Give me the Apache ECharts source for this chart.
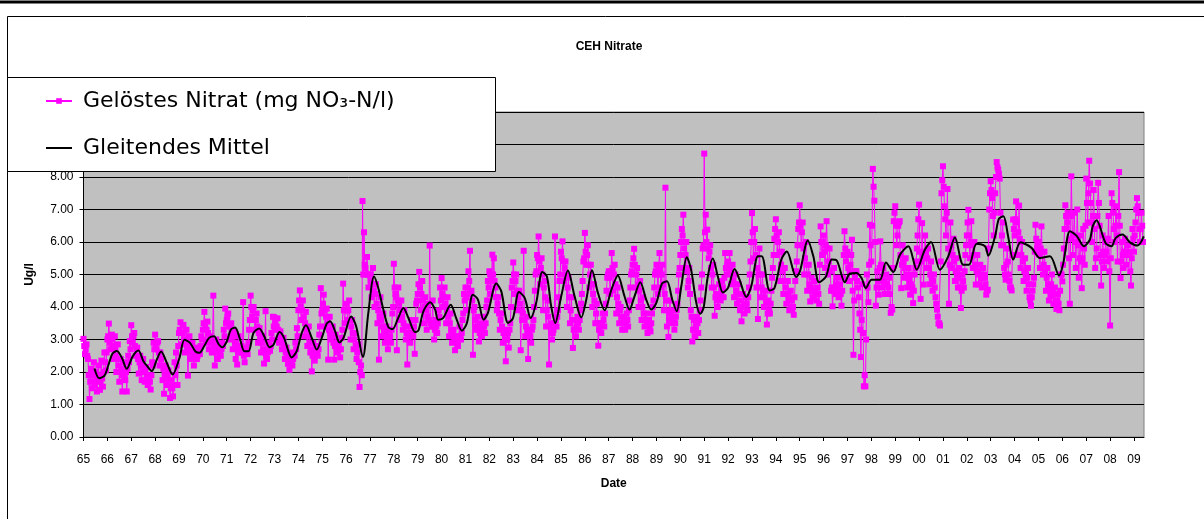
<!DOCTYPE html>
<html>
<head>
<meta charset="utf-8">
<style>html,body{margin:0;padding:0;background:#fff}#c{width:1204px;height:519px}</style>
<script src="https://cdn.jsdelivr.net/npm/echarts@6/dist/echarts.min.js"></script>
</head>
<body>
<div id="c"></div>
<script>
const chartTitle = 'CEH Nitrate';
const xAxisName = 'Date';
const yAxisName = 'Ug/l';
const nitrateName = 'Gelöstes Nitrat (mg NO\u2083-N/l)';
const averageName = 'Gleitendes Mittel';
const tickLabels = ['65','66','67','68','69','70','71','72','73','74','75','76','77','78','79','80','81','82','83','84','85','86','87','88','89','90','91','92','93','94','95','96','97','98','99','00','01','02','03','04','05','06','07','08','09'];
const startYear = 65;
const samplesPerYear = 16;
// one row per year: samples on the sixteenth of a year
const nitrateValues = [
3.02,2.55,2.85,2.4,1.17,2.1,1.5,2.3,1.7,1.4,2.2,1.45,2.35,1.55,2.6,2.05,
3.0,3.49,2.7,3.15,2.4,3.1,2.0,2.85,1.7,2.4,1.4,2.3,1.75,1.4,2.5,2.95,
3.44,2.9,3.2,2.5,2.75,1.95,2.5,1.75,2.4,1.7,2.15,1.6,1.9,1.46,2.3,2.9,
3.15,2.7,2.95,2.2,2.4,1.75,1.33,2.2,1.6,2.05,1.2,1.75,1.25,2.3,2.6,1.6,
3.2,3.53,2.85,3.45,2.6,3.3,1.89,3.1,2.4,2.9,2.2,2.75,2.4,2.7,2.55,3.1,
3.3,3.85,2.9,3.55,2.7,3.1,2.6,4.35,2.2,3.0,2.4,2.85,2.5,2.9,3.3,3.95,
3.6,3.8,3.0,3.5,2.7,3.25,2.4,2.23,3.1,2.6,2.8,4.15,2.3,2.75,2.55,3.3,
4.35,3.7,4.0,3.3,3.8,2.9,3.35,2.6,3.1,2.26,3.87,2.4,2.9,2.65,3.2,3.7,
3.68,3.3,3.65,2.9,3.25,2.7,3.05,2.4,2.75,2.25,2.07,2.6,2.2,2.55,2.9,3.35,
3.9,4.51,3.6,4.2,3.1,3.85,2.8,3.4,2.6,2.02,2.9,2.35,2.8,2.5,3.15,4.58,
3.9,4.38,3.4,3.95,2.38,3.7,3.0,3.4,2.38,3.15,2.6,2.9,2.45,3.05,4.72,3.5,
4.1,3.6,4.2,3.0,3.6,2.7,3.2,2.4,2.85,1.54,2.2,7.26,6.3,5.2,5.54,4.6,
5.0,4.3,5.2,4.0,4.7,3.5,2.38,4.3,3.1,3.8,2.9,3.4,2.7,3.3,2.9,3.8,
5.33,4.4,2.67,4.6,3.6,4.2,3.3,3.9,3.0,2.23,3.4,2.9,3.6,3.1,2.56,4.1,
4.4,5.08,3.9,4.8,3.5,4.3,3.3,4.1,5.89,3.5,4.2,3.0,3.6,3.2,3.9,4.6,
4.89,4.0,4.6,3.5,4.3,3.1,3.8,2.9,3.3,2.67,3.1,2.8,3.4,3.0,3.6,4.4,
4.6,3.9,5.1,5.73,4.5,2.53,4.0,3.3,3.7,2.94,3.5,3.1,3.7,3.2,4.0,4.8,
5.1,4.4,5.61,5.5,4.6,3.9,4.3,3.3,3.8,2.9,3.3,2.33,3.0,2.75,3.5,4.6,
5.37,4.4,5.0,3.9,4.5,2.67,3.6,5.73,3.1,3.7,2.4,3.3,2.9,3.4,4.0,5.0,
5.6,6.17,4.7,5.5,3.9,4.8,3.4,4.2,2.23,3.5,3.0,3.3,6.17,3.4,3.9,4.8,
5.7,6.02,4.8,5.4,4.0,4.9,3.5,4.3,2.74,3.6,3.1,3.7,3.3,3.9,4.4,5.4,
6.28,5.3,5.9,4.6,5.3,4.0,4.7,3.5,4.1,2.81,3.5,3.2,3.8,3.4,4.1,4.9,
5.1,4.4,5.66,4.5,5.3,3.8,4.6,3.5,4.0,3.3,3.7,3.3,3.8,3.4,4.2,5.0,
5.3,5.79,4.6,5.2,4.0,4.8,3.6,4.3,3.4,3.8,3.2,3.6,3.25,3.8,4.2,5.0,
5.3,4.4,5.66,4.6,5.3,3.9,7.67,3.4,3.08,4.2,3.5,3.9,3.3,3.7,4.1,5.0,
5.6,6.4,6.84,5.2,6.0,4.6,5.2,3.9,2.94,3.6,3.1,3.7,3.2,3.9,4.6,5.8,
8.72,6.84,6.38,5.5,5.9,4.6,5.3,3.73,4.4,4.0,4.7,4.2,4.8,4.3,5.66,5.0,
5.4,5.66,4.7,5.3,4.3,5.0,4.1,4.7,3.9,3.56,4.4,3.8,4.3,3.9,4.6,5.4,
6.89,5.5,6.4,4.6,3.63,5.8,4.3,5.0,4.0,4.5,3.46,4.2,3.8,4.5,5.2,6.1,
6.7,5.6,6.3,4.8,5.7,4.4,5.2,4.1,4.8,3.9,4.5,3.9,3.76,4.8,5.4,6.4,
7.13,5.9,6.6,5.0,6.0,4.5,5.3,4.17,4.9,4.3,4.8,4.2,4.6,4.1,6.48,5.6,
6.2,5.2,6.64,5.0,5.8,4.5,4.02,5.2,4.4,4.9,4.3,4.7,4.04,4.9,6.33,5.4,
5.7,4.8,5.3,6.07,2.53,4.9,5.1,4.6,3.8,2.46,4.7,1.56,1.56,5.0,4.15,6.53,
5.4,8.25,7.27,4.04,5.1,4.38,6.02,4.6,5.2,4.4,5.0,4.4,4.9,3.82,3.92,6.64,
7.1,5.9,6.5,6.64,4.58,5.9,4.9,5.5,4.6,5.2,4.38,5.0,4.12,5.0,5.4,6.2,
7.15,4.25,6.58,4.69,6.2,5.2,5.8,4.7,5.4,4.5,5.0,4.3,3.92,3.49,3.43,7.5,
8.33,7.1,6.2,7.63,4.1,6.6,5.2,6.1,4.8,5.5,4.6,5.2,3.97,5.0,4.6,5.6,
6.2,6.99,5.5,6.64,5.2,6.0,4.69,5.6,4.7,5.3,4.6,5.2,4.9,4.38,4.53,7.0,
7.87,7.35,6.2,7.5,8.46,8.23,7.95,5.9,6.6,5.2,4.84,5.8,5.0,4.6,4.51,6.69,
6.2,7.25,5.6,7.12,5.2,6.0,4.8,5.5,4.5,5.2,4.3,4.04,4.5,4.9,6.53,5.8,
6.0,5.2,6.48,5.0,5.7,4.5,5.2,4.2,4.33,5.0,4.1,4.6,3.94,4.4,3.9,5.0,
4.79,5.8,7.13,6.4,6.9,4.1,8.02,5.6,6.9,5.2,7.0,4.9,6.2,4.58,6.4,5.3,
7.95,6.6,8.5,7.2,6.0,7.6,5.2,5.8,7.82,6.5,4.66,6.2,5.2,6.0,5.4,6.8,
3.43,7.5,6.9,6.0,7.1,5.4,8.15,4.89,6.0,5.2,6.1,5.3,5.9,5.6,4.66,6.4,
5.7,6.6,7.35,6.89,6.0,6.9,6.0
];
const nitrateBetween = [
2.8,2.7,2.5,1.9,1.7,2.0,1.9,1.6,2.0,1.8,1.7,1.9,1.8,2.0,2.3,2.6,
3.1,2.9,3.0,2.8,2.7,2.5,2.4,2.2,2.0,2.1,1.9,1.8,2.0,2.1,2.3,2.7,
3.1,3.1,2.8,2.7,2.4,2.3,2.2,2.1,2.0,2.0,1.9,1.8,1.7,1.9,2.2,2.7,
2.9,2.9,2.6,2.6,2.2,2.1,1.9,1.8,1.9,1.7,1.5,1.5,1.6,1.9,2.2,2.8,
3.3,3.2,3.2,3.0,3.0,2.8,2.7,2.6,2.6,2.5,2.5,2.4,2.5,2.6,2.8,3.0,
3.5,3.4,3.3,3.2,3.0,2.9,2.9,2.8,2.7,2.6,2.6,2.6,2.7,2.8,3.1,3.5,
3.7,3.4,3.4,3.2,3.1,2.9,2.8,2.7,2.6,2.7,2.6,2.5,2.6,2.6,2.9,3.6,
4.0,3.9,3.6,3.6,3.4,3.2,3.0,2.9,2.7,2.6,2.5,2.6,2.7,2.8,3.0,3.4,
3.5,3.4,3.3,3.1,3.0,2.9,2.8,2.6,2.5,2.4,2.3,2.3,2.4,2.5,2.7,3.1,
4.2,4.0,3.9,3.7,3.5,3.3,3.1,2.9,2.7,2.5,2.5,2.6,2.6,2.7,3.4,3.8,
4.1,3.9,3.7,3.5,3.3,3.2,3.1,2.9,2.8,2.8,2.7,2.7,2.7,3.3,3.9,3.9,
3.9,3.9,3.6,3.4,3.2,3.0,2.8,2.6,2.3,2.0,1.9,5.0,5.3,5.0,5.0,5.0,
4.8,4.7,4.5,4.4,4.1,3.9,3.7,3.6,3.4,3.3,3.2,3.1,3.0,3.1,3.3,4.0,
4.6,4.3,4.2,4.1,3.9,3.7,3.5,3.4,3.2,3.2,3.1,3.1,3.2,3.4,3.6,4.2,
4.7,4.6,4.4,4.2,4.0,3.9,3.7,3.6,3.5,3.4,3.4,3.3,3.4,3.5,3.7,4.2,
4.4,4.3,4.1,3.9,3.7,3.5,3.3,3.2,3.1,3.0,2.9,3.0,3.1,3.2,3.8,4.2,
4.3,4.6,4.8,4.4,4.2,3.9,3.6,3.4,3.3,3.2,3.3,3.4,3.4,3.5,4.2,4.6,
5.0,4.9,5.0,4.8,4.3,4.1,3.8,3.6,3.4,3.2,3.0,3.0,3.2,3.3,4.0,4.8,
5.0,4.8,4.5,4.3,4.1,3.9,3.8,3.6,3.4,3.3,3.2,3.1,3.3,3.6,4.5,5.1,
5.5,5.4,5.2,5.0,4.6,4.3,3.9,3.7,3.4,3.2,3.2,3.5,3.6,3.7,4.3,5.0,
5.5,5.4,5.2,5.0,4.6,4.3,3.9,3.6,3.3,3.3,3.4,3.5,3.6,4.1,4.8,5.5,
5.7,5.6,5.3,5.0,4.7,4.4,4.2,3.8,3.5,3.3,3.4,3.5,3.6,3.8,4.5,5.0,
4.9,5.1,5.2,5.0,4.7,4.3,4.1,3.9,3.7,3.5,3.5,3.5,3.6,3.9,4.6,5.1,
5.5,5.3,5.0,4.7,4.5,4.2,4.0,3.8,3.6,3.5,3.4,3.4,3.5,4.0,4.6,5.1,
5.0,5.2,5.1,5.0,4.7,4.4,4.2,3.9,3.6,3.8,3.7,3.6,3.5,3.9,4.5,5.2,
6.0,6.2,5.8,5.6,5.1,4.8,4.4,3.7,3.3,3.3,3.4,3.5,3.6,4.2,5.0,5.9,
6.3,6.0,5.8,5.7,5.2,5.0,4.6,4.3,4.2,4.3,4.4,4.5,4.6,4.9,5.2,5.3,
5.2,5.1,5.0,4.8,4.7,4.5,4.4,4.2,4.0,4.0,4.1,4.1,4.1,4.3,5.0,6.0,
6.3,6.0,5.6,5.2,5.0,5.0,4.6,4.5,4.3,4.1,3.8,3.9,4.1,4.9,5.6,6.4,
6.2,6.0,5.7,5.3,5.1,4.8,4.6,4.4,4.3,4.2,4.2,4.0,4.3,5.1,5.9,6.6,
6.5,6.3,5.8,5.5,5.3,5.0,4.7,4.6,4.5,4.5,4.5,4.4,4.4,5.3,6.0,6.0,
5.7,5.9,5.8,5.4,5.1,4.6,4.5,4.6,4.7,4.6,4.5,4.4,4.5,5.6,5.8,5.6,
5.2,5.1,5.6,4.5,4.2,5.1,4.8,4.3,3.3,3.6,3.2,1.9,3.0,4.6,5.3,5.9,
6.5,7.7,6.0,4.6,4.8,5.2,5.3,4.9,4.8,4.7,4.7,4.6,4.4,4.0,5.2,6.9,
6.5,6.2,6.6,5.6,5.3,5.4,5.2,5.0,4.9,4.8,4.7,4.6,4.5,5.2,5.8,6.7,
5.7,5.4,5.6,5.5,5.7,5.5,5.2,5.0,4.9,4.8,4.6,4.1,3.7,3.5,5.4,7.9,
7.7,6.7,6.9,5.8,5.3,5.9,5.6,5.4,5.1,5.0,4.9,4.6,4.5,4.8,5.1,5.9,
6.6,6.2,6.0,5.9,5.6,5.3,5.1,5.1,5.0,4.9,4.9,5.0,4.7,4.5,5.8,7.5,
7.6,6.8,6.9,8.0,8.3,8.1,6.9,6.2,5.9,5.0,5.3,5.4,4.8,4.6,5.6,6.4,
6.7,6.6,6.3,6.1,5.6,5.4,5.1,5.0,4.9,4.7,4.2,4.3,4.7,5.7,6.1,5.9,
5.6,5.8,5.7,5.3,5.1,4.9,4.7,4.6,4.7,4.5,4.4,4.2,4.2,4.1,4.5,5.0,
5.3,6.4,6.8,6.6,5.5,6.1,6.8,6.2,6.0,6.0,5.9,5.5,5.4,5.5,5.8,6.5,
7.2,7.5,7.8,6.6,6.8,6.4,5.5,6.8,7.2,5.6,5.4,5.7,5.6,5.7,6.1,5.1,
5.5,7.2,6.4,6.5,6.2,6.8,6.5,5.4,5.6,5.7,5.7,5.6,5.7,5.1,5.5,6.1,
6.2,7.0,7.1,6.4,6.4,6.5
];
// years counted from 1900
const averageYears = [
65.46,65.66,65.88,66.05,66.21,66.4,66.61,66.81,67.06,67.3,67.51,67.68,67.86,68.07,68.25,68.49,68.73,69.02,69.23,69.47,69.68,69.86,
70.05,70.26,70.47,70.65,70.81,71.0,71.17,71.35,71.56,71.74,71.91,72.12,72.36,72.57,72.79,72.96,73.21,73.4,73.72,73.93,74.14,74.32,74.56,74.77,74.98,
75.19,75.33,75.54,75.72,75.89,76.21,76.42,76.7,76.93,77.17,77.35,77.56,77.77,77.95,78.15,78.4,78.61,78.89,79.03,79.24,79.52,79.73,79.85,
80.06,80.38,80.61,80.85,81.06,81.31,81.52,81.76,81.94,82.29,82.5,82.78,82.99,83.24,83.48,83.73,83.96,84.22,84.41,84.59,84.76,85.01,85.29,85.57,85.85,
86.06,86.3,86.55,86.83,87.11,87.38,87.66,87.87,88.08,88.32,88.57,88.78,88.99,89.23,89.44,89.66,89.85,90.04,90.27,90.45,90.67,90.83,90.97,
91.15,91.36,91.57,91.78,91.99,92.27,92.48,92.76,92.97,93.25,93.41,93.74,93.94,94.23,94.46,94.85,95.01,95.34,95.57,95.81,
96.1,96.34,96.55,96.89,97.1,97.38,97.59,97.77,98.01,98.36,98.61,98.92,99.2,99.55,99.9,100.24,100.5,100.87,101.22,101.5,101.85,102.09,102.41,102.76,102.9,
103.18,103.34,103.53,103.73,103.94,104.25,104.71,105.06,105.48,105.86,106.04,106.32,106.6,106.9,107.15,107.27,107.43,107.81,108.06,108.23,108.52,108.83,109.15,109.41
];
const averageValues = [
2.11,1.81,1.89,2.23,2.56,2.65,2.43,2.10,2.48,2.66,2.33,2.17,2.03,2.38,2.63,2.28,1.92,2.43,2.99,2.89,2.64,2.59,
2.79,3.05,3.10,2.87,2.76,2.94,3.30,3.37,3.0,2.64,2.64,3.2,3.34,3.1,2.76,2.84,3.23,3.05,2.45,2.64,3.2,3.44,3.05,2.69,3.05,
3.49,3.56,3.25,2.91,3.05,3.71,3.41,2.46,3.82,4.94,4.58,3.92,3.38,3.32,3.61,3.97,3.66,3.23,3.28,3.87,4.15,3.92,3.61,
3.66,4.07,3.66,3.27,3.51,4.38,4.23,3.61,3.82,4.72,4.48,3.51,3.66,4.46,4.28,3.66,4.12,5.08,4.94,4.02,3.51,4.33,5.12,4.33,3.68,
4.23,5.13,4.43,3.90,4.53,4.97,4.33,3.92,4.33,4.76,4.23,3.92,4.12,4.72,4.79,4.23,3.87,4.64,5.53,5.15,4.12,3.79,3.97,
4.94,5.49,4.94,4.45,4.58,5.17,4.84,4.31,4.64,5.56,5.56,4.51,4.58,5.46,5.71,4.92,5.10,6.05,5.56,4.76,
4.94,5.46,5.43,4.76,5.03,5.05,4.89,4.58,4.84,4.84,5.37,5.08,5.61,5.87,5.15,5.76,6.0,5.15,5.56,6.14,5.30,5.30,5.95,5.87,5.58,
6.17,6.71,6.79,6.17,5.46,5.99,5.82,5.51,5.56,4.97,5.35,6.33,6.19,5.87,6.07,6.48,6.67,5.97,5.87,6.12,6.23,5.99,5.89,6.17
];

const nitrateData = [];
nitrateValues.forEach((v,i)=>{
  nitrateData.push([startYear+i/samplesPerYear,v]);
  if(i<nitrateBetween.length) nitrateData.push([startYear+(i+0.5)/samplesPerYear,nitrateBetween[i]]);
});

const chart = echarts.init(document.getElementById('c'), null, {renderer:'canvas'});
const armFont = 'Liberation Sans, Arial, sans-serif';
chart.setOption({
  animation:false,
  backgroundColor:'#fff',
  title:{text:chartTitle,left:604,top:36,textAlign:'center',
    textStyle:{fontFamily:armFont,fontSize:12,fontWeight:'bold',color:'#000'}},
  grid:{left:83.5,right:60,top:112,bottom:82,show:true,backgroundColor:'#c0c0c0',borderColor:'#808080',borderWidth:1},
  legend:{left:40,top:85,orient:'vertical',itemGap:25,itemWidth:26,itemHeight:7,z:6,
    data:[nitrateName,averageName],
    textStyle:{fontFamily:'DejaVu Sans',fontSize:22,color:'#000',padding:[0,0,0,6]}},
  xAxis:{type:'value',min:startYear,max:109.42,interval:1,name:xAxisName,nameLocation:'center',nameGap:41,
    nameTextStyle:{fontFamily:armFont,fontSize:12,fontWeight:'bold',color:'#000'},
    axisLine:{show:true,onZero:false,lineStyle:{color:'#000',width:1}},
    axisTick:{show:true,length:4,lineStyle:{color:'#000'}},
    splitLine:{show:false},
    axisLabel:{color:'#000',fontFamily:armFont,fontSize:12,margin:17,showMinLabel:true,showMaxLabel:false,hideOverlap:false,
      formatter:v=>Number.isInteger(v)?(tickLabels[v-startYear]||''):''}},
  yAxis:{type:'value',min:0,max:10,interval:1,name:yAxisName,nameLocation:'center',nameGap:48,
    nameTextStyle:{fontFamily:armFont,fontSize:12,fontWeight:'bold',color:'#000'},
    axisLine:{show:true,lineStyle:{color:'#000',width:1}},
    axisTick:{show:true,length:4,lineStyle:{color:'#000'}},
    splitLine:{show:true,lineStyle:{color:'#000',width:1}},
    axisLabel:{color:'#000',fontFamily:armFont,fontSize:12,margin:10,
      formatter:v=>v>8?'':v.toFixed(2)}},
  graphic:[
    {type:'line',z:5,silent:true,shape:{x1:0,y1:2,x2:1204,y2:2},style:{stroke:'#000',lineWidth:3}},
    {type:'line',z:5,silent:true,shape:{x1:7.5,y1:16.5,x2:1204,y2:16.5},style:{stroke:'#000',lineWidth:1}},
    {type:'line',z:5,silent:true,shape:{x1:7.5,y1:16.5,x2:7.5,y2:519},style:{stroke:'#000',lineWidth:1}},
    {type:'rect',z:5,silent:true,shape:{x:7.5,y:77.5,width:488,height:94},style:{fill:'#fff',stroke:'#000',lineWidth:1}}
  ],
  series:[
    {name:nitrateName,type:'line',z:2,data:nitrateData,
      symbol:'rect',symbolSize:6,showSymbol:true,showAllSymbol:true,
      lineStyle:{color:'#ff00ff',width:1},itemStyle:{color:'#ff00ff'}},
    {name:averageName,type:'line',z:3,data:averageYears.map((y,i)=>[y,averageValues[i]]),
      symbol:'circle',showSymbol:false,smooth:0.3,lineStyle:{color:'#000',width:2},itemStyle:{color:'rgba(0,0,0,0)',borderColor:'rgba(0,0,0,0)'}}
  ]
});
</script>
</body>
</html>
